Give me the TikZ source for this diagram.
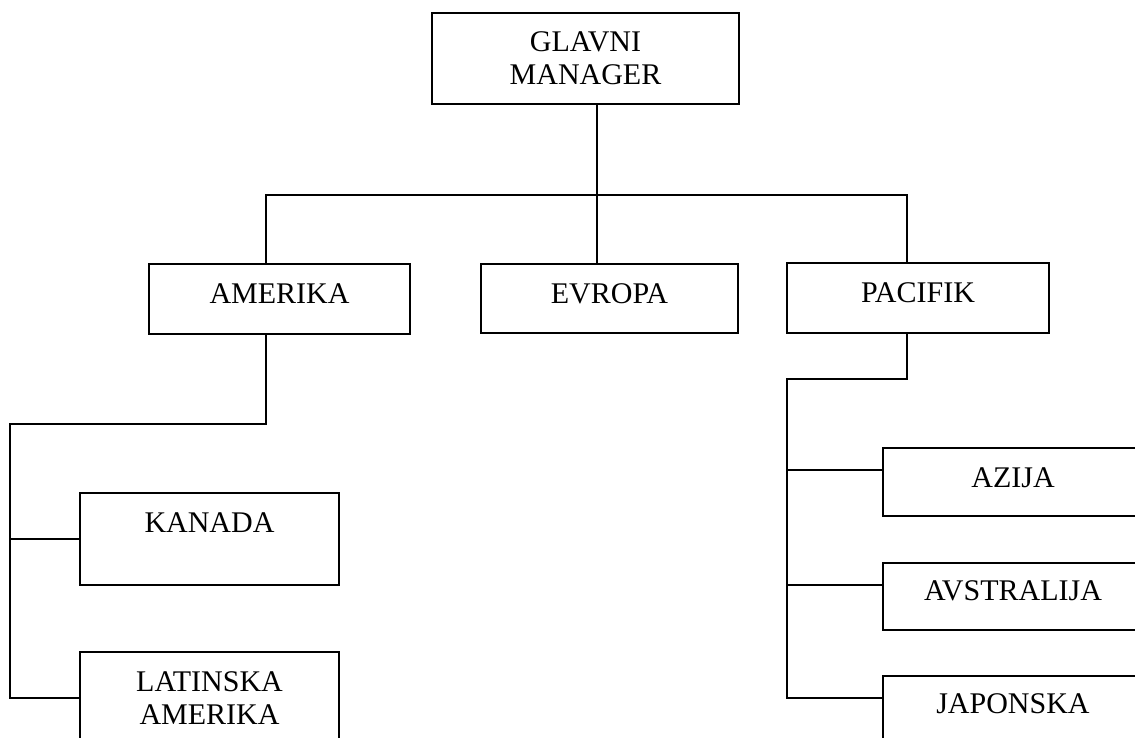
\documentclass[tikz,border=0pt]{standalone}
\usepackage{fontspec}
\setmainfont{Liberation Serif}
\begin{document}
\begin{tikzpicture}[x=1pt,y=-1pt,
  box/.style={draw, line width=1.8pt, rectangle, inner sep=0pt, align=center,
    font=\fontsize{30}{33}\selectfont},
  onel/.style={text height=20pt, text depth=#1},
  conn/.style={line width=1.8pt, line cap=rect}]
\useasboundingbox (0,0) rectangle (1135,738);
\clip (0,0) rectangle (1135,738);
% boxes
\node[box, minimum width=307pt, minimum height=91pt] (G) at (585.5,58.5) {GLAVNI\\MANAGER};
\node[box, onel=12pt, minimum width=261pt, minimum height=70pt] (AM) at (279.5,299) {AMERIKA};
\node[box, onel=11pt, minimum width=257pt, minimum height=69pt] (EV) at (609.5,298.5) {EVROPA};
\node[box, onel=12pt, minimum width=262pt, minimum height=70pt] (PA) at (918,298) {PACIFIK};
\node[box, onel=34pt, minimum width=259pt, minimum height=92pt] (KA) at (209.5,539) {KANADA};
\node[box, minimum width=259pt, minimum height=92pt] (LA) at (209.5,698) {LATINSKA\\AMERIKA};
\node[box, onel=10pt, minimum width=260pt, minimum height=68pt] (AZ) at (1013,482) {AZIJA};
\node[box, onel=13pt, minimum width=260pt, minimum height=67pt] (AV) at (1013,596.5) {AVSTRALIJA};
\node[box, onel=14pt, minimum width=260pt, minimum height=68pt] (JA) at (1013,710) {JAPONSKA};
% junctions
\coordinate (jG) at (597,195);
\coordinate (jA) at (266,195);
\coordinate (jP) at (907,195);
\coordinate (aL) at (266,424);
\coordinate (aC) at (10,424);
\coordinate (pL) at (907,379);
\coordinate (pC) at (787,379);
\coordinate (AZw) at ([yshift=12pt]AZ.west);
\coordinate (AVw) at ([yshift=11.5pt]AV.west);
\coordinate (JAw) at ([yshift=12pt]JA.west);
% connectors
\draw[conn] (G.south -| jG) -- (jG |- EV.north);
\draw[conn] (AM.north -| jA) -- (jA) -- (jP) -- (PA.north -| jP);
\draw[conn] (AM.south -| aL) -- (aL) -- (aC) -- (aC |- LA.west) -- (LA.west);
\draw[conn] (aC |- KA.west) -- (KA.west);
\draw[conn] (PA.south -| pL) -- (pL) -- (pC) -- (pC |- JAw) -- (JAw);
\draw[conn] (pC |- AZw) -- (AZw);
\draw[conn] (pC |- AVw) -- (AVw);
\end{tikzpicture}
\end{document}
